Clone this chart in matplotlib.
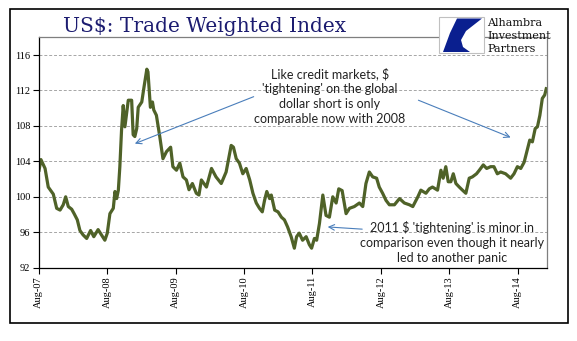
import matplotlib
matplotlib.use('Agg')
import matplotlib.pyplot as plt
import matplotlib.dates as mdates
from matplotlib.patches import Rectangle, Polygon
import pandas as pd

# readings (date, index level)
dates = ['2007-08-04', '2007-08-14', '2007-09-05', '2007-09-22', '2007-10-19', '2007-11-06',
         '2007-11-24', '2007-12-11', '2007-12-24', '2008-01-07', '2008-01-25', '2008-02-07',
         '2008-02-24', '2008-03-09', '2008-03-26', '2008-04-14', '2008-05-05', '2008-05-22',
         '2008-06-14', '2008-07-02', '2008-07-20', '2008-08-02', '2008-08-16', '2008-09-03',
         '2008-09-12', '2008-09-21', '2008-09-30', '2008-10-08', '2008-10-17', '2008-10-26',
         '2008-11-04', '2008-11-22', '2008-12-10', '2008-12-18', '2008-12-27', '2009-01-06',
         '2009-01-14', '2009-02-02', '2009-02-14', '2009-03-01', '2009-03-07', '2009-03-20',
         '2009-03-31', '2009-04-07', '2009-04-21', '2009-05-09', '2009-05-26', '2009-06-14',
         '2009-07-06', '2009-07-18', '2009-08-06', '2009-08-24', '2009-09-10', '2009-09-28',
         '2009-10-12', '2009-10-30', '2009-11-20', '2009-12-04', '2009-12-17', '2010-01-13',
         '2010-02-09', '2010-03-05', '2010-04-02', '2010-04-28', '2010-05-25', '2010-06-06',
         '2010-06-21', '2010-07-08', '2010-07-26', '2010-08-13', '2010-09-01', '2010-09-18',
         '2010-10-06', '2010-10-23', '2010-11-07', '2010-11-19', '2010-12-01', '2010-12-16',
         '2010-12-25', '2011-01-12', '2011-01-30', '2011-02-17', '2011-03-05', '2011-03-22',
         '2011-04-10', '2011-04-27', '2011-05-09', '2011-05-23', '2011-06-10', '2011-06-29',
         '2011-07-16', '2011-07-28', '2011-08-12', '2011-08-24', '2011-09-08', '2011-09-26',
         '2011-10-13', '2011-10-31', '2011-11-18', '2011-12-06', '2011-12-20', '2012-01-07',
         '2012-01-28', '2012-02-15', '2012-03-12', '2012-04-08', '2012-04-26', '2012-05-13',
         '2012-05-31', '2012-06-18', '2012-07-09', '2012-07-23', '2012-08-10', '2012-08-28',
         '2012-09-15', '2012-10-12', '2012-11-08', '2012-12-04', '2012-12-31', '2013-01-18',
         '2013-02-14', '2013-03-02', '2013-03-29', '2013-04-16', '2013-05-03', '2013-05-30',
         '2013-06-17', '2013-06-29', '2013-07-13', '2013-07-26', '2013-08-09', '2013-08-22',
         '2013-09-05', '2013-09-23', '2013-10-10', '2013-10-28', '2013-11-15', '2013-12-02',
         '2013-12-24', '2014-01-08', '2014-01-29', '2014-02-16', '2014-03-09', '2014-03-27',
         '2014-04-14', '2014-05-02', '2014-05-28', '2014-06-24', '2014-07-12', '2014-07-30',
         '2014-08-17', '2014-09-04', '2014-09-21', '2014-10-04', '2014-10-18', '2014-11-02',
         '2014-11-14', '2014-11-27', '2014-12-10', '2014-12-23', '2014-12-31']
twi = [103.0, 104.2, 103.2, 101.1, 100.3, 98.7,
       98.5, 99.1, 100.0, 98.9, 98.6, 98.1,
       97.4, 96.2, 95.7, 95.3, 96.2, 95.5,
       96.3, 95.7, 95.1, 95.9, 98.1, 98.7,
       100.6, 99.8, 100.75, 103.4, 107.5, 110.3,
       107.9, 110.9, 110.9, 107.0, 106.8, 107.7,
       110.1, 110.7, 112.4, 114.4, 114.1, 110.1,
       110.7, 109.8, 109.2, 106.8, 104.3, 105.1,
       105.6, 103.4, 103.0, 103.8, 102.25, 101.9,
       100.8, 101.5, 100.4, 100.2, 101.9, 101.1,
       103.2, 102.25, 101.5, 102.8, 105.8, 105.6,
       104.3, 103.8, 102.6, 103.2, 101.9, 100.4,
       99.3, 98.7, 98.3, 99.6, 100.6, 99.8,
       100.2, 98.5, 98.3, 97.7, 97.4, 96.6,
       95.5, 94.2, 95.5, 95.9, 95.1, 95.5,
       94.6, 94.2, 95.3, 95.1, 97.0, 100.2,
       97.9, 97.7, 100.0, 99.3, 100.9, 100.7,
       98.1, 98.7, 98.9, 99.3, 98.9, 101.5,
       102.8, 102.25, 102.1, 101.1, 100.4, 99.6,
       99.1, 99.1, 99.8, 99.3, 99.1, 98.9,
       100.0, 100.75, 100.4, 100.9, 101.1, 100.75,
       103.0, 102.1, 103.4, 101.7, 101.7, 102.6,
       101.5, 101.1, 100.75, 100.4, 102.1, 102.25,
       102.6, 103.0, 103.6, 103.2, 103.4, 103.4,
       102.6, 102.8, 102.6, 102.1, 102.6, 103.4,
       103.2, 103.9, 105.3, 106.4, 106.2, 107.7,
       107.9, 109.2, 111.1, 111.5, 112.2]

tick_dates = ['2007-08-01', '2008-08-01', '2009-08-01', '2010-08-01',
              '2011-08-01', '2012-08-01', '2013-08-01', '2014-08-01']
yticks = [92, 96, 100, 104, 108, 112, 116]

note1 = "Like credit markets, $\n'tightening' on the global\ndollar short is only\ncomparable now with 2008"
note2 = "2011 $ 'tightening' is minor in\ncomparison even though it nearly\nled to another panic"

x = pd.to_datetime(dates)
W, H = 577, 341
fig = plt.figure(figsize=(W / 100, H / 100), dpi=100)

# outer frame
fig.patches.append(Rectangle((10 / W, 1 - 323 / H), 558 / W, 314 / H, transform=fig.transFigure,
                             fill=False, edgecolor='black', linewidth=1.2))

ax = fig.add_axes([38.5 / W, 1 - 267.7 / H, (547 - 38.5) / W, (267.7 - 37.3) / H])
ax.plot(x, twi, color='#4f6228', linewidth=2.3, solid_joinstyle='round')

ax.set_ylim(92, 118)
ax.set_xlim(pd.Timestamp('2007-08-01'), pd.Timestamp('2015-01-04'))
ax.set_yticks(yticks)
ax.set_yticklabels([str(v) for v in yticks], fontsize=7.5, family='Liberation Serif')
ax.set_xticks(pd.to_datetime(tick_dates))
ax.xaxis.set_major_formatter(mdates.DateFormatter('Aug-%y'))
for lab in ax.get_xticklabels():
    lab.set_rotation(90)
    lab.set_fontsize(7.5)
    lab.set_family('Liberation Serif')
ax.tick_params(direction='out', length=4, width=0.8, pad=2)
for v in yticks[1:]:
    ax.axhline(v, color='#a6a6a6', linewidth=0.7, linestyle=(0, (3, 2)), zorder=0)

ax.spines['left'].set_color('black')
ax.spines['bottom'].set_color('black')
ax.spines['top'].set_color('#7f7f7f')
ax.spines['right'].set_color('#7f7f7f')
for s in ax.spines.values():
    s.set_linewidth(0.9)

# annotations
ax.text(pd.Timestamp('2011-11-01'), 111.35, note1, ha='center', va='center', fontsize=9,
        family='Lato', color='#222222', linespacing=1.3)
ax.text(pd.Timestamp('2013-08-16'), 94.85, note2, ha='center', va='center', fontsize=9,
        family='Lato', color='#222222', linespacing=1.3)
arrow = dict(arrowstyle='->', color='#4a7ebb', linewidth=0.8, shrinkA=0, shrinkB=0)
ax.annotate('', xy=(pd.Timestamp('2008-12-27'), 106.0), xytext=(pd.Timestamp('2010-09-22'), 111.3),
            arrowprops=arrow)
ax.annotate('', xy=(pd.Timestamp('2014-06-24'), 106.7), xytext=(pd.Timestamp('2013-02-17'), 110.9),
            arrowprops=arrow)
ax.annotate('', xy=(pd.Timestamp('2011-10-22'), 96.6), xytext=(pd.Timestamp('2012-04-23'), 96.35),
            arrowprops=arrow)

# title
fig.text(63 / W, 1 - 31.5 / H, 'US$: Trade Weighted Index', fontsize=14.5, family='DejaVu Serif',
         color='#1c1c70', ha='left', va='baseline')

# logo
fig.patches.append(Rectangle((439 / W, 1 - 53 / H), 45 / W, 36 / H, transform=fig.transFigure,
                             facecolor='white', edgecolor='#c0c0c0', linewidth=0.8, zorder=5))
logo_px = [(457, 18.5), (482, 18.5), (466, 31), (461, 40), (463, 47), (470, 52), (443, 52), (450, 33)]
fig.patches.append(Polygon([(px / W, 1 - py / H) for px, py in logo_px], closed=True,
                           transform=fig.transFigure, facecolor='#0a1f8f', edgecolor='none', zorder=6))
fig.text(487 / W, 1 - 26.5 / H, 'Alhambra', fontsize=8, family='DejaVu Serif', color='#111111')
fig.text(487 / W, 1 - 39 / H, 'Investment', fontsize=8, family='DejaVu Serif', color='#111111')
fig.text(487 / W, 1 - 51.5 / H, 'Partners', fontsize=8, family='DejaVu Serif', color='#111111')

fig.savefig('out.png', dpi=100, facecolor='white')
